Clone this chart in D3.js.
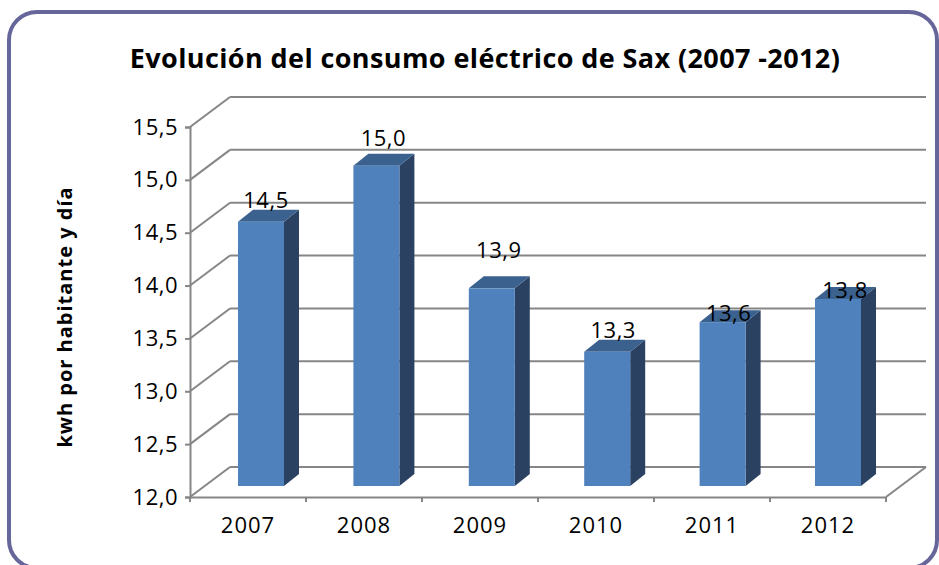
<!DOCTYPE html>
<html>
<head>
<meta charset="utf-8">
<script src="https://cdn.jsdelivr.net/npm/d3@7"></script>
<style>
  html, body { margin: 0; padding: 0; background: #fff; overflow: hidden; }
  svg { display: block; }
  text { font-family: "Open Sans", sans-serif; fill: #000; }
</style>
</head>
<body>
<div id="vis"></div>
<script>
const years = ["2007", "2008", "2009", "2010", "2011", "2012"];
const consumo = [14.5, 15.03, 13.87, 13.27, 13.55, 13.77];
const valueLabels = ["14,5", "15,0", "13,9", "13,3", "13,6", "13,8"];
const yTicks = [12, 12.5, 13, 13.5, 14, 14.5, 15, 15.5];

const FRAME_WIDTH = 939;
const FRAME_HEIGHT = 565;
const GRID = "#868686";
// how far the back wall sits from the front of the box
const WALL_DX = 40, WALL_DY = -30;
// bars sit part way into the box
const BAR_DY = -11, BAR_W = 46, SIDE_DX = 15, SIDE_DY = -12;
// the data labels are not at a fixed distance from the bars in the original
const labelGap = [14, 20, 30, 14, 1, 1];
const labelDx = [5, 7, 7, 6, 6, 7];

const svg = d3.select("#vis").append("svg")
  .attr("width", FRAME_WIDTH)
  .attr("height", FRAME_HEIGHT);

// rounded frame
svg.append("rect")
  .attr("x", 9).attr("y", 12)
  .attr("width", 928).attr("height", 556)
  .attr("rx", 28).attr("ry", 28)
  .attr("fill", "#fff")
  .attr("stroke", "#66669a")
  .attr("stroke-width", 4);

const xScale = d3.scaleBand().domain(years).range([190, 886]);
const barScale = d3.scaleBand().domain(years).range([203.3, 895.7]);
const yScale = d3.scaleLinear().domain([12, 15.5]).range([497, 127]);

// back wall gridlines and the diagonals on the left wall
svg.append("g").selectAll("line.grid")
  .data(yTicks)
  .enter()
  .append("line")
    .attr("x1", xScale.range()[0] + WALL_DX)
    .attr("x2", xScale.range()[1] + WALL_DX)
    .attr("y1", d => yScale(d) + WALL_DY)
    .attr("y2", d => yScale(d) + WALL_DY)
    .attr("stroke", GRID).attr("stroke-width", 2);

svg.append("g").selectAll("line.wall")
  .data(yTicks)
  .enter()
  .append("line")
    .attr("x1", xScale.range()[0])
    .attr("x2", xScale.range()[0] + WALL_DX)
    .attr("y1", d => yScale(d))
    .attr("y2", d => yScale(d) + WALL_DY)
    .attr("stroke", GRID).attr("stroke-width", 2);

// right edge of the floor
svg.append("line")
  .attr("x1", xScale.range()[1]).attr("y1", yScale(12))
  .attr("x2", xScale.range()[1] + WALL_DX).attr("y2", yScale(12) + WALL_DY)
  .attr("stroke", GRID).attr("stroke-width", 2);

// axes
const xAxis = svg.append("g")
  .attr("transform", "translate(0," + yScale(12) + ")")
  .call(d3.axisBottom(xScale).tickSize(0).tickPadding(20));
xAxis.selectAll("text").style("font-size", "22px").style("letter-spacing", "1px");
xAxis.select(".domain").attr("stroke", GRID).attr("stroke-width", 2);

// the x ticks mark the band edges, not the centres
xAxis.selectAll("line.edge")
  .data(years.map(d => xScale(d)).concat(xScale.range()[1]))
  .enter()
  .append("line")
    .attr("x1", d => d).attr("x2", d => d)
    .attr("y1", 0).attr("y2", 5)
    .attr("stroke", GRID).attr("stroke-width", 2);

const yAxis = svg.append("g")
  .attr("transform", "translate(" + xScale.range()[0] + ",0)")
  .call(d3.axisLeft(yScale)
    .tickValues(yTicks)
    .tickSize(5)
    .tickPadding(7)
    .tickFormat(d => d3.format(".1f")(d).replace(".", ",")));
yAxis.selectAll("text").style("font-size", "22px").style("letter-spacing", "0.5px");
yAxis.selectAll("line").attr("stroke", GRID).attr("stroke-width", 2);
yAxis.select(".domain").attr("stroke", GRID).attr("stroke-width", 2);

// bars: side, top, front
const bars = svg.append("g").selectAll("g.bar")
  .data(years.map((y, i) => ({year: y, value: consumo[i], label: valueLabels[i], i: i})))
  .enter()
  .append("g")
    .attr("class", "bar");

const barLeft = d => barScale(d.year) + barScale.bandwidth() / 2 - BAR_W / 2;
const barTop = d => yScale(d.value) + BAR_DY;
const barBase = yScale(12) + BAR_DY;

bars.append("path")
  .attr("fill", "#2a4162")
  .attr("d", d => {
    const r = barLeft(d) + BAR_W;
    return "M" + r + "," + barTop(d) +
      "L" + (r + SIDE_DX) + "," + (barTop(d) + SIDE_DY) +
      "L" + (r + SIDE_DX) + "," + (barBase + SIDE_DY) +
      "L" + r + "," + barBase + "Z";
  });

bars.append("path")
  .attr("fill", "#3b618f")
  .attr("d", d => {
    const l = barLeft(d), t = barTop(d);
    return "M" + l + "," + t +
      "L" + (l + SIDE_DX) + "," + (t + SIDE_DY) +
      "L" + (l + BAR_W + SIDE_DX) + "," + (t + SIDE_DY) +
      "L" + (l + BAR_W) + "," + t + "Z";
  });

bars.append("rect")
  .attr("fill", "#4f81bd")
  .attr("x", barLeft)
  .attr("y", barTop)
  .attr("width", BAR_W)
  .attr("height", d => barBase - barTop(d));

bars.append("text")
  .attr("x", d => barLeft(d) + BAR_W / 2 + labelDx[d.i])
  .attr("y", d => barTop(d) - labelGap[d.i])
  .attr("text-anchor", "middle")
  .style("font-size", "22px")
  .style("letter-spacing", "0.5px")
  .text(d => d.label);

// titles
svg.append("text")
  .attr("x", 485).attr("y", 68)
  .attr("text-anchor", "middle")
  .style("font-size", "27px")
  .style("letter-spacing", "0.4px")
  .style("font-weight", "bold")
  .text("Evolución del consumo eléctrico de Sax (2007 -2012)");

svg.append("text")
  .attr("transform", "translate(72,317) rotate(-90)")
  .attr("text-anchor", "middle")
  .style("font-size", "20px")
  .style("letter-spacing", "1px")
  .style("font-weight", "bold")
  .text("kwh por habitante y día");
</script>
</body>
</html>
